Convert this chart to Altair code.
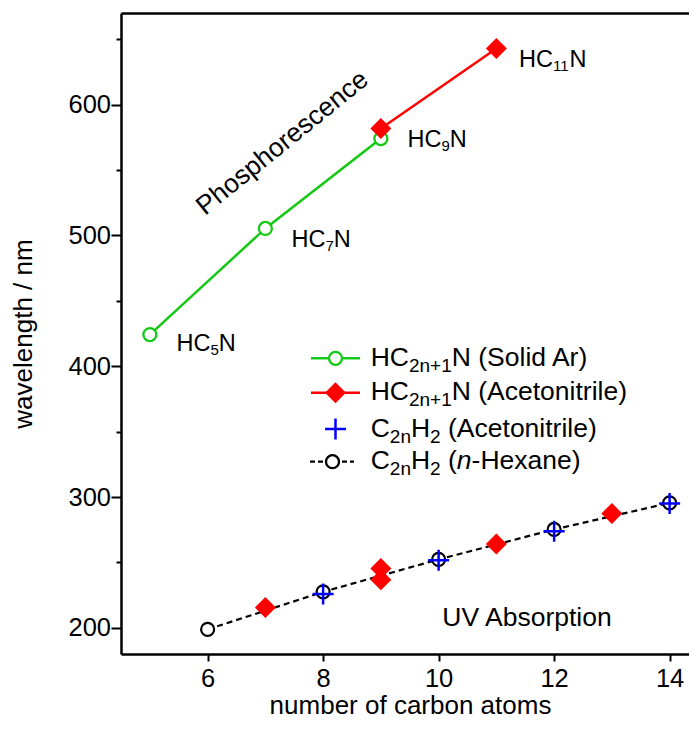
import altair as alt
import pandas as pd

# ---------------- data ----------------
hc_ar_n = [5, 7, 9]                     # HC(2n+1)N, solid Ar (phosphorescence)
hc_ar_nm = [424.2, 505.3, 574.0]
hc_acn_ph_n = [9, 11]                   # HC(2n+1)N, acetonitrile (phosphorescence)
hc_acn_ph_nm = [581.7, 642.8]
hc_acn_uv_n = [7, 9, 9, 11, 13]         # HC(2n+1)N, acetonitrile (UV absorption)
hc_acn_uv_nm = [215.6, 245.4, 236.7, 264.0, 287.4]
c2n_acn_n = [8, 10, 12, 14]             # C2nH2, acetonitrile
c2n_acn_nm = [225.8, 251.7, 273.9, 295.1]
c2n_hex_n = [6, 8, 10, 12, 14]          # C2nH2, n-hexane
c2n_hex_nm = [198.8, 227.5, 252.3, 275.2, 295.5]

x_ticks = [6, 8, 10, 12, 14]
y_ticks = [200, 300, 400, 500, 600]
y_minor = [250, 350, 450, 550, 650]

x_title = "number of carbon atoms"
y_title = "wavelength / nm"
phos_text = "Phosphorescence"
uv_text = "UV Absorption"

# label pieces: (text, kind) kind: n = normal, s = subscript, i = italic
point_labels = [
    [("HC", "n"), ("5", "s"), ("N", "n")],
    [("HC", "n"), ("7", "s"), ("N", "n")],
    [("HC", "n"), ("9", "s"), ("N", "n")],
    [("HC", "n"), ("11", "s"), ("N", "n")],
]
legend_labels = [
    [("HC", "n"), ("2n+1", "s"), ("N (Solid Ar)", "n")],
    [("HC", "n"), ("2n+1", "s"), ("N (Acetonitrile)", "n")],
    [("C", "n"), ("2n", "s"), ("H", "n"), ("2", "s"), (" (Acetonitrile)", "n")],
    [("C", "n"), ("2n", "s"), ("H", "n"), ("2", "s"), (" (", "n"), ("n", "i"), ("-Hexane)", "n")],
]

# ---------------- layout / style ----------------
FONT = "Liberation Sans"
GREEN = "#14c814"
RED = "#ff0000"
BLUE = "#0000ff"
W, H = 568, 641
XD = [4.5, 4.5 + 568 / 57.75]
YD = [180, 670]
PL, PT = 121, 13   # page position of the plot's top-left corner


def to_x(px):
    return XD[0] + (px - PL) / W * (XD[1] - XD[0])


def to_y(py):
    return YD[1] - (py - PT) / H * (YD[1] - YD[0])


ARIAL = {'H': 722, 'C': 722, 'N': 722, ' ': 278, '(': 333, ')': 333, 'S': 667,
         'o': 556, 'l': 222, 'i': 222, 'd': 556, 'A': 667, 'r': 333, 'c': 500,
         'e': 556, 't': 278, 'n': 556, '2': 556, '1': 556, '+': 584, '5': 556,
         '7': 556, '9': 556, '-': 333, 'x': 500, 'a': 556}


def adv(txt, fs):
    return sum(ARIAL[c] for c in txt) / 1000.0 * fs


def rich(pieces, x_page, y_page, main_fs, sub_fs, sub_dy):
    rows = []
    cx = x_page
    for txt, kind in pieces:
        fs = sub_fs if kind == "s" else main_fs
        yy = y_page + (sub_dy if kind == "s" else 0)
        lead = len(txt) - len(txt.lstrip(" "))
        cx += adv(" " * lead, fs)
        core = txt.strip(" ")
        rows.append(dict(x=to_x(cx), y=to_y(yy), t=core, fs=fs, it=(kind == "i")))
        cx += adv(txt.lstrip(" "), fs)
    return rows


xs = alt.Scale(domain=XD, nice=False, zero=False)
ys = alt.Scale(domain=YD, nice=False, zero=False)

df_ar = pd.DataFrame({"n": hc_ar_n, "nm": hc_ar_nm})
df_ph = pd.DataFrame({"n": hc_acn_ph_n, "nm": hc_acn_ph_nm})
df_uv = pd.DataFrame({"n": hc_acn_uv_n, "nm": hc_acn_uv_nm})
df_acn = pd.DataFrame({"n": c2n_acn_n, "nm": c2n_acn_nm})
df_hex = pd.DataFrame({"n": c2n_hex_n, "nm": c2n_hex_nm})
df_red = pd.concat([df_ph, df_uv], ignore_index=True)

axis_common = dict(grid=False, domainColor="black", tickColor="black", labelColor="black",
                   labelFont=FONT, titleFont=FONT, titleColor="black", titleFontWeight="normal",
                   domainWidth=2.5, tickWidth=2, labelFlush=False)

x_axis_main = alt.Axis(orient="bottom", values=x_ticks, tickSize=7, labelPadding=5,
                       labelFontSize=25.5, title=x_title, titleFontSize=26,
                       titleX=289, titleY=59, titleBaseline="alphabetic", **axis_common)
y_axis_main = alt.Axis(orient="left", values=y_ticks, tickSize=10, labelPadding=0.5,
                       labelFontSize=25.5, title=y_title, titleFontSize=26,
                       titleX=-90, titleY=320.5, titleAngle=270, titleBaseline="alphabetic",
                       **axis_common)
y_axis_minor = alt.Axis(orient="left", values=y_minor, tickSize=5, labels=False,
                        domain=False, title=None, grid=False, tickWidth=2, tickColor="black")
x_axis_top = alt.Axis(orient="top", labels=False, ticks=False, domain=True, title=None,
                      grid=False, domainColor="black", domainWidth=2.5)


def enc(chart, xaxis=None, yaxis=None, xf="n", yf="nm"):
    return chart.encode(
        x=alt.X(f"{xf}:Q", scale=xs, axis=xaxis),
        y=alt.Y(f"{yf}:Q", scale=ys, axis=yaxis),
    )


green_line = enc(alt.Chart(df_ar).mark_line(color=GREEN, strokeWidth=2.5),
                 xaxis=x_axis_main, yaxis=y_axis_main)
red_line = enc(alt.Chart(df_ph).mark_line(color=RED, strokeWidth=2.5),
               xaxis=x_axis_top, yaxis=y_axis_minor)
hex_line = enc(alt.Chart(df_hex).mark_line(color="black", strokeWidth=2.2, strokeDash=[6, 4]))
green_pts = enc(alt.Chart(df_ar).mark_point(shape="circle", size=169, fill="white", fillOpacity=1,
                                            stroke=GREEN, strokeWidth=2.3, opacity=1))
hex_pts = enc(alt.Chart(df_hex).mark_point(shape="circle", size=169, fill="white", fillOpacity=1,
                                           stroke="black", strokeWidth=2.2, opacity=1))
acn_pts = enc(alt.Chart(df_acn).mark_point(shape="M-1,0L1,0M0,-1L0,1", size=441, filled=False,
                                           stroke=BLUE, strokeWidth=2.5, opacity=1))
red_pts = enc(alt.Chart(df_red).mark_point(shape="diamond", size=441, filled=True, fill=RED,
                                           color=RED, strokeWidth=0, opacity=1))

# ---------------- annotations ----------------
label_anchor_px = [(176.5, 350.7), (291.5, 247.3), (407.5, 147.3), (519.0, 67.3)]
rows = []
for pieces, (ax, ay) in zip(point_labels, label_anchor_px):
    rows += rich(pieces, ax, ay, 23.5, 15, 4)

leg_rows_y = [358.3, 392.7, 429.0, 461.7]
leg_text_x = 370.7
for pieces, yc in zip(legend_labels, leg_rows_y):
    rows += rich(pieces, leg_text_x, yc + 7.7, 26.5, 19, 6)

df_txt = pd.DataFrame(rows)


def text_layer(df, italic):
    return alt.Chart(df).mark_text(align="left", baseline="alphabetic", font=FONT, color="black",
                                   fontStyle="italic" if italic else "normal").encode(
        x=alt.X("x:Q", scale=xs, axis=None),
        y=alt.Y("y:Q", scale=ys, axis=None),
        text="t:N",
        size=alt.Size("fs:Q", scale=None, legend=None),
    )


txt_normal = text_layer(df_txt[~df_txt["it"]], False)
txt_italic = text_layer(df_txt[df_txt["it"]], True)

df_big = pd.DataFrame([dict(x=to_x(282.5), y=to_y(143.0), t=phos_text)])
phos = alt.Chart(df_big).mark_text(align="center", baseline="middle", font=FONT, fontSize=26.5,
                                   angle=321, color="black").encode(
    x=alt.X("x:Q", scale=xs, axis=None), y=alt.Y("y:Q", scale=ys, axis=None), text="t:N")
df_uvt = pd.DataFrame([dict(x=to_x(527.0), y=to_y(625.7), t=uv_text)])
uvt = alt.Chart(df_uvt).mark_text(align="center", baseline="alphabetic", font=FONT, fontSize=26.5,
                                  color="black").encode(
    x=alt.X("x:Q", scale=xs, axis=None), y=alt.Y("y:Q", scale=ys, axis=None), text="t:N")

# ---------------- legend symbols ----------------
sx1, sx2, sxm = 311, 360, 335.5
leg_lines = pd.DataFrame([
    dict(x=to_x(sx1), y=to_y(leg_rows_y[0]), r=0, c=GREEN),
    dict(x=to_x(sx2), y=to_y(leg_rows_y[0]), r=0, c=GREEN),
    dict(x=to_x(sx1), y=to_y(leg_rows_y[1]), r=1, c=RED),
    dict(x=to_x(sx2), y=to_y(leg_rows_y[1]), r=1, c=RED),
])
leg_line = alt.Chart(leg_lines).mark_line(strokeWidth=2.5).encode(
    x=alt.X("x:Q", scale=xs, axis=None), y=alt.Y("y:Q", scale=ys, axis=None),
    detail="r:N", color=alt.Color("c:N", scale=None, legend=None))
leg_dash_df = pd.DataFrame([
    dict(x=to_x(310), y=to_y(leg_rows_y[3])),
    dict(x=to_x(354), y=to_y(leg_rows_y[3])),
])
leg_dash = alt.Chart(leg_dash_df).mark_line(color="black", strokeWidth=2.2, strokeDash=[5, 3]).encode(
    x=alt.X("x:Q", scale=xs, axis=None), y=alt.Y("y:Q", scale=ys, axis=None))
leg_circ_df = pd.DataFrame([
    dict(x=to_x(sxm), y=to_y(leg_rows_y[0]), c=GREEN),
    dict(x=to_x(332.5), y=to_y(leg_rows_y[3]), c="black"),
])
leg_circ = alt.Chart(leg_circ_df).mark_point(shape="circle", size=169, fill="white", fillOpacity=1,
                                             strokeWidth=2.3, opacity=1).encode(
    x=alt.X("x:Q", scale=xs, axis=None), y=alt.Y("y:Q", scale=ys, axis=None),
    stroke=alt.Stroke("c:N", scale=None, legend=None))
leg_dia = alt.Chart(pd.DataFrame([dict(x=to_x(sxm), y=to_y(leg_rows_y[1]))])).mark_point(
    shape="diamond", size=441, filled=True, fill=RED, color=RED, strokeWidth=0, opacity=1).encode(
    x=alt.X("x:Q", scale=xs, axis=None), y=alt.Y("y:Q", scale=ys, axis=None))
leg_cross = alt.Chart(pd.DataFrame([dict(x=to_x(sxm), y=to_y(leg_rows_y[2]))])).mark_point(
    shape="M-1,0L1,0M0,-1L0,1", size=441, filled=False, stroke=BLUE, strokeWidth=2.5, opacity=1).encode(
    x=alt.X("x:Q", scale=xs, axis=None), y=alt.Y("y:Q", scale=ys, axis=None))

chart = alt.layer(
    green_line, red_line, hex_line, green_pts, hex_pts, acn_pts, red_pts,
    txt_normal, txt_italic, phos, uvt,
    leg_line, leg_dash, leg_circ, leg_dia, leg_cross,
).resolve_axis(x="independent", y="independent").properties(
    width=W, height=H,
    autosize=alt.AutoSizeParams(type="none"),
    padding={"left": 113, "top": 5, "right": 0, "bottom": 72},
    background="white",
).configure_view(stroke=None)

chart.save("out.html", embed_options={"renderer": "svg", "actions": False})
